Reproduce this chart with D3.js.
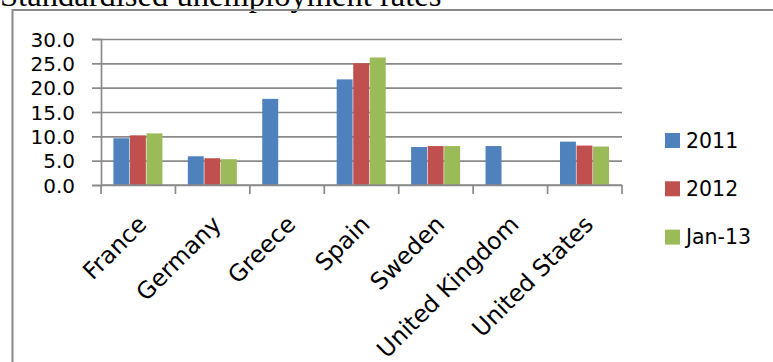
<!DOCTYPE html>
<html>
<head>
<meta charset="utf-8">
<script src="https://cdn.jsdelivr.net/npm/d3@7"></script>
<style>
  body { margin: 0; background: #fff; }
  svg { display: block; }
  .lbl { font-family: "DejaVu Sans", sans-serif; font-size: 20px; fill: #000; }
</style>
</head>
<body>
<div id="chart"></div>
<script>
// data
let countries = ["France", "Germany", "Greece", "Spain", "Sweden", "United Kingdom", "United States"]
let seriesNames = ["2011", "2012", "Jan-13"]
let values2011 = [9.6, 5.9, 17.7, 21.7, 7.8, 8.0, 8.9]
let values2012 = [10.2, 5.5, null, 25.0, 8.0, null, 8.1]
let valuesJan13 = [10.6, 5.3, null, 26.2, 8.0, null, 7.9]
let yTicks = [0, 5, 10, 15, 20, 25, 30]
let colors = ["#4F81BD", "#C0504D", "#9BBB59"]

let W = 773, H = 362
let plot = {left: 101, right: 622, top: 39, bottom: 185}

let svg = d3.select("#chart")
  .append("svg")
    .attr("width", W)
    .attr("height", H)

svg.append("rect").attr("width", W).attr("height", H).attr("fill", "#fff")

// title, cut off at the top like the original
svg.append("text")
  .attr("x", 0)
  .attr("y", 5.5)
  .style("font-family", "'Liberation Serif', 'Times New Roman', serif")
  .style("font-size", "32.6px")
  .text("Standardised unemployment rates")

// chart frame (only top and left edges are inside the picture)
svg.append("path")
  .attr("d", "M12.5," + (H + 5) + "V10H" + (W + 5))
  .attr("fill", "none")
  .attr("stroke", "#898989")
  .attr("stroke-width", 2)

let x = d3.scaleBand()
  .domain(countries)
  .range([plot.left, plot.right])

let xSub = d3.scaleBand()
  .domain(seriesNames)
  .range([0, x.bandwidth()])
  .paddingOuter(0.75)

let y = d3.scaleLinear()
  .domain([0, 30])
  .range([plot.bottom, plot.top])

// gridlines
svg.append("g")
  .attr("transform", "translate(" + plot.left + ",0)")
  .call(d3.axisLeft(y).tickValues(yTicks).tickSize(-(plot.right - plot.left)).tickFormat(""))
  .call(g => g.select(".domain").remove())
  .call(g => g.selectAll("line").attr("stroke", "#8a8a8a").attr("stroke-width", 1.7))

// y axis
svg.append("g")
  .attr("transform", "translate(" + plot.left + ",0)")
  .call(d3.axisLeft(y).tickValues(yTicks).tickSize(9).tickPadding(17).tickFormat(d3.format(".1f")))
  .call(g => g.select(".domain").attr("stroke", "#8a8a8a").attr("stroke-width", 1.7))
  .call(g => g.selectAll("line").attr("stroke", "#8a8a8a").attr("stroke-width", 1.7))
  .call(g => g.selectAll("text").attr("class", "lbl").attr("dy", "0.36em"))

// bars
let allSeries = [values2011, values2012, valuesJan13]
let barData = []
countries.forEach(function(c, i) {
  seriesNames.forEach(function(s, j) {
    if (allSeries[j][i] != null) barData.push({country: c, series: s, value: allSeries[j][i], k: j})
  })
})

svg.append("g")
  .selectAll("rect")
  .data(barData)
  .enter()
  .append("rect")
    .attr("x", function(d) { return x(d.country) + xSub(d.series) })
    .attr("y", function(d) { return y(d.value) })
    .attr("width", xSub.bandwidth() - 0.6)
    .attr("height", function(d) { return y(0) - y(d.value) })
    .attr("fill", function(d) { return colors[d.k] })

// x axis line and ticks on category boundaries
let xAxis = svg.append("g")
xAxis.append("line")
  .attr("x1", plot.left).attr("x2", plot.right)
  .attr("y1", y(0)).attr("y2", y(0))
  .attr("stroke", "#8a8a8a").attr("stroke-width", 1.7)
xAxis.selectAll(".tk")
  .data(countries.map(c => x(c)).concat([plot.right]))
  .enter()
  .append("line")
    .attr("x1", d => d).attr("x2", d => d)
    .attr("y1", y(0)).attr("y2", y(0) + 9)
    .attr("stroke", "#8a8a8a").attr("stroke-width", 1.7)

xAxis.selectAll(".cat")
  .data(countries)
  .enter()
  .append("text")
    .attr("class", "lbl")
    .style("font-size", "23.5px")
    .attr("text-anchor", "end")
    .attr("dy", "0.35em")
    .attr("transform", function(d) {
      return "translate(" + (x(d) + x.bandwidth() / 2 + 4) + "," + (y(0) + 35) + ") rotate(-45)"
    })
    .text(d => d)

// legend
let legend = svg.append("g")
  .selectAll("g")
  .data(seriesNames)
  .enter()
  .append("g")
    .attr("transform", function(d, i) { return "translate(665," + (133 + i * 48.3) + ")" })

legend.append("rect")
  .attr("width", 15)
  .attr("height", 15)
  .attr("fill", (d, i) => colors[i])

legend.append("text")
  .attr("class", "lbl")
  .style("font-size", "20.5px")
  .attr("x", 21)
  .attr("y", 7.5)
  .attr("dy", "0.36em")
  .text(d => d)
</script>
</body>
</html>
